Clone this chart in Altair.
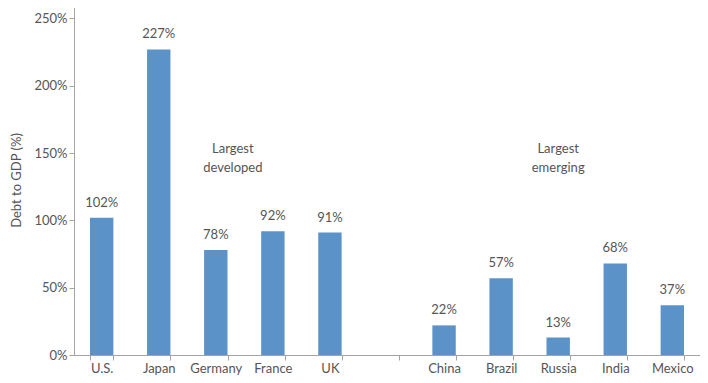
import altair as alt
import pandas as pd

countries = ["U.S.", "Japan", "Germany", "France", "UK", " ", "China", "Brazil", "Russia", "India", "Mexico"]
values = [102, 227, 78, 92, 91, None, 22, 57, 13, 68, 37]
labels = ["102%", "227%", "78%", "92%", "91%", "", "22%", "57%", "13%", "68%", "37%"]

groups = ["Largest developed", "Largest emerging"]
group_anchor = ["Germany", "Russia"]
group_lines = [["Largest", "developed"], ["Largest", "emerging"]]
group_y = [153, 153]
group_dx = [17, 0]

df = pd.DataFrame({"country": countries, "value": values, "label": labels})
font = "Lato"
text_color = "#555555"
axis_color = "#a3a3a3"

xenc = alt.X("country:N", sort=countries, title=None,
             scale=alt.Scale(paddingInner=0.59, paddingOuter=0.28),
             axis=alt.Axis(labelAngle=0, tickBand="extent", domainColor=axis_color,
                           tickColor=axis_color, tickSize=5, labelColor=text_color,
                           labelFontSize=13, labelFont=font, labelPadding=2))

bars = alt.Chart(df).mark_bar(color="#5b93c9").encode(
    x=xenc,
    y=alt.Y("value:Q", title="Debt to GDP (%)",
            scale=alt.Scale(domain=[0, 250]),
            axis=alt.Axis(values=[0, 50, 100, 150, 200, 250],
                          labelExpr="datum.value + '%'", grid=False,
                          domainColor=axis_color, tickColor=axis_color, tickSize=5,
                          labelColor=text_color, labelFontSize=13, labelFont=font,
                          titleColor=text_color, titleFontSize=13, titleFont=font,
                          titleFontWeight="normal", titlePadding=10, labelPadding=2))
)

text = alt.Chart(df).mark_text(baseline="bottom", dy=-8, fontSize=13, font=font,
                               color=text_color).encode(
    x=alt.X("country:N", sort=countries),
    y="value:Q",
    text="label:N",
)

gdf = pd.DataFrame({"group": groups, "country": group_anchor, "y": group_y, "dx": group_dx})

annots = []
for i in range(len(groups)):
    sub = gdf.iloc[[i]].copy()
    annots.append(
        alt.Chart(sub).mark_text(baseline="middle", fontSize=13, font=font,
                                 color=text_color, lineHeight=19, dx=group_dx[i]).encode(
            x=alt.X("country:N", sort=countries),
            y="y:Q",
            text=alt.value(group_lines[i]),
        )
    )

chart = alt.layer(bars, text, *annots).properties(
    width=692, height=367,
    padding={"left": 2, "right": 0, "top": -3, "bottom": 0},
    autosize=alt.AutoSizeParams(type="fit", contains="padding"),
).configure_view(stroke=None)

chart.save("out.html", embed_options={"renderer": "svg", "actions": False})
